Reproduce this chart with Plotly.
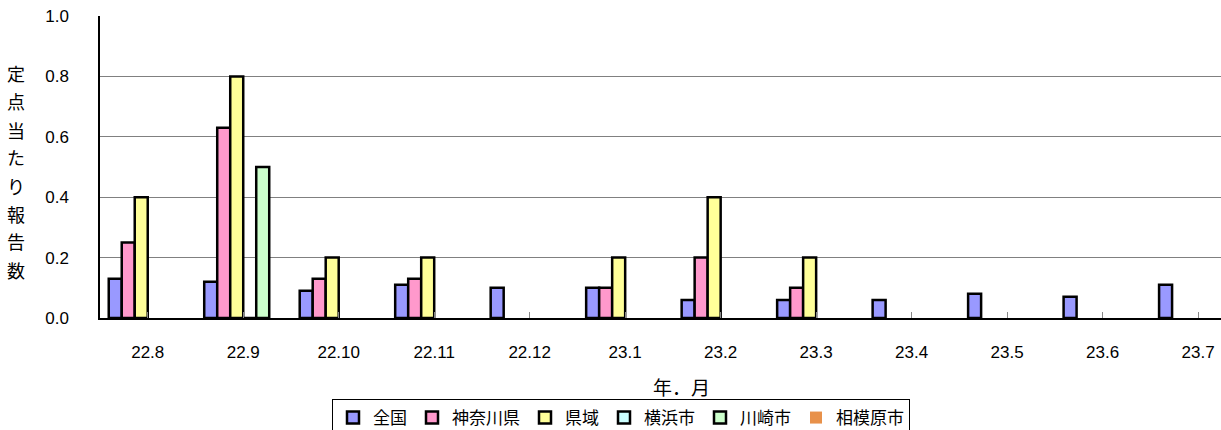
import plotly.graph_objects as go

months = ["22.8", "22.9", "22.10", "22.11", "22.12", "23.1", "23.2", "23.3", "23.4", "23.5", "23.6", "23.7"]
zenkoku = [0.13, 0.12, 0.09, 0.11, 0.10, 0.10, 0.06, 0.06, 0.06, 0.08, 0.07, 0.11]
kanagawa = [0.25, 0.63, 0.13, 0.13, None, 0.10, 0.20, 0.10, None, None, None, None]
keniki = [0.40, 0.80, 0.20, 0.20, None, 0.20, 0.40, 0.20, None, None, None, None]
yokohama = [None, 0.0, None, None, None, None, None, None, None, None, None, None]
kawasaki = [None, 0.50, None, None, None, None, None, None, None, None, None, None]
sagamihara = [None] * 12

series = [
    ("全国", zenkoku, "#9999FF", 2.5),
    ("神奈川県", kanagawa, "#FF99CC", 2.5),
    ("県域", keniki, "#FFFF99", 2.5),
    ("横浜市", yokohama, "#CCFFFF", 2.5),
    ("川崎市", kawasaki, "#CCFFCC", 2.5),
    ("相模原市", sagamihara, "#E8914A", 0),
]

FONT = "Liberation Sans, Arial, Noto Sans CJK JP, sans-serif"
JFONT = "Noto Sans CJK JP, sans-serif"

fig = go.Figure()
for name, vals, color, lw in series:
    fig.add_trace(go.Bar(
        x=list(range(len(months))), y=vals, name=name,
        marker=dict(color=color, line=dict(color="black", width=lw)),
    ))

W, H = 1221, 430
L, R, T, B = 100, 0, 16, 112
pw, ph = W - L - R, H - T - B

def px_x(x):
    return (x - L) / pw

def px_y(y):
    return (H - B - y) / ph

ylabel = "定点当たり報告数"
ys = [73, 101, 130, 157, 186, 214, 241, 270]
annotations = []
for ch, yy in zip(ylabel, ys):
    annotations.append(dict(
        text=ch, x=px_x(16), y=px_y(yy), xref="paper", yref="paper",
        showarrow=False, xanchor="center", yanchor="middle",
        font=dict(family=JFONT, size=18, color="black"),
    ))
annotations.append(dict(
    text="年．月", x=px_x(681), y=px_y(386), xref="paper", yref="paper",
    showarrow=False, xanchor="center", yanchor="middle",
    font=dict(family=JFONT, size=19, color="black"),
))

fig.update_layout(
    width=W, height=H,
    margin=dict(l=L, r=R, t=T, b=B, pad=0, autoexpand=False),
    paper_bgcolor="white", plot_bgcolor="white",
    barmode="group", bargap=0.183, bargroupgap=0,
    font=dict(family=FONT, size=17, color="black"),
    showlegend=True,
    legend=dict(
        orientation="h", x=px_x(621), xanchor="center", y=px_y(399), yanchor="top",
        bordercolor="black", borderwidth=1, bgcolor="white",
        font=dict(family=JFONT, size=17, color="black"),
        itemwidth=30, traceorder="normal",
    ),
    annotations=annotations,
)
fig.update_xaxes(
    range=[-0.5, 11.24], tickmode="array", tickvals=list(range(len(months))), ticktext=months,
    showgrid=False, showline=True, linecolor="black", linewidth=1.5,
    ticks="inside", tickson="boundaries", ticklen=6, tickcolor="#888888",
    tickfont=dict(family=FONT, size=17), ticklabelstandoff=18,
    zeroline=False, fixedrange=True, automargin=False,
)
fig.update_yaxes(
    range=[0, 1.0], tickmode="array", tickvals=[0, 0.2, 0.4, 0.6, 0.8, 1.0],
    ticktext=["0.0", "0.2", "0.4", "0.6", "0.8", "1.0"],
    showgrid=True, gridcolor="#808080", gridwidth=1,
    showline=True, linecolor="black", linewidth=1.5,
    ticks="", tickfont=dict(family=FONT, size=17), ticklabelstandoff=26,
    zeroline=False, fixedrange=True, automargin=False,
)

fig.write_html(
    "out.html",
    config={"displayModeBar": False},
    post_script="document.body.style.margin='0';document.body.style.overflow='hidden';",
)
